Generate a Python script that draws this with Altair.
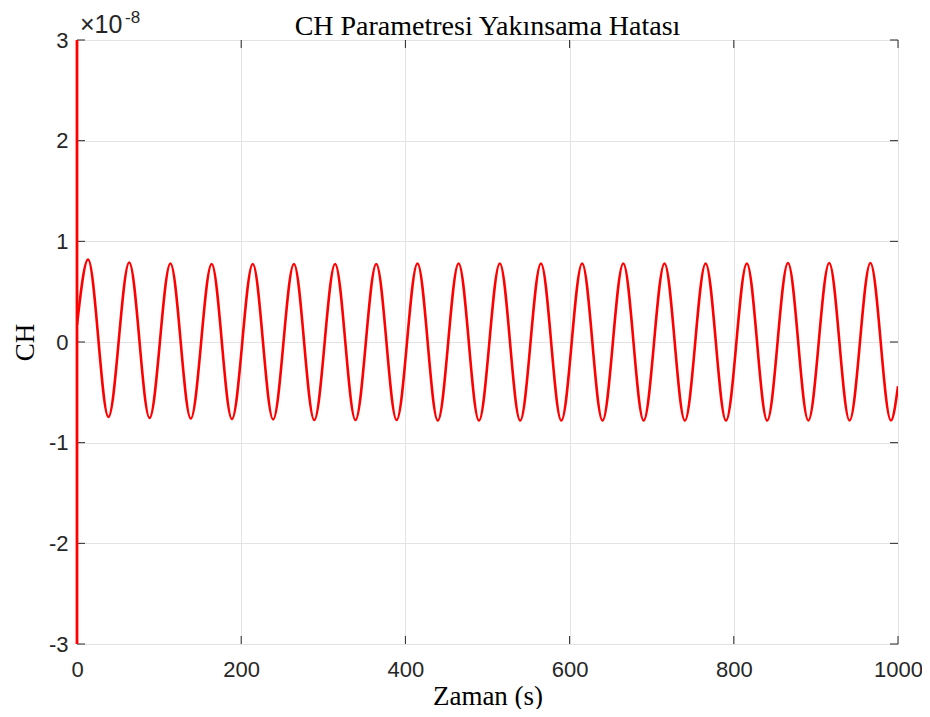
import altair as alt
import pandas as pd

# Values in units of 1e-8 (as shown by the "×10^-8" axis multiplier)
start_x = [0.0]
start_y = [0.17]
peak_x = [13.5, 63.6, 113.8, 164.0, 214.1, 264.2, 314.4, 364.5, 414.7, 464.8,
          515.0, 565.1, 615.3, 665.4, 715.6, 765.7, 815.9, 866.0, 916.2, 966.4]
peak_y = [0.82, 0.79, 0.78, 0.775, 0.775, 0.775, 0.775, 0.775, 0.78, 0.78,
          0.78, 0.78, 0.78, 0.78, 0.78, 0.78, 0.78, 0.785, 0.785, 0.785]
trough_x = [38.3, 88.4, 138.6, 188.7, 238.9, 289.0, 339.2, 389.3, 439.5, 489.6,
            539.8, 589.9, 640.1, 690.2, 740.4, 790.5, 840.7, 890.8, 941.0, 991.4]
trough_y = [-0.745, -0.755, -0.76, -0.765, -0.77, -0.775, -0.775, -0.775, -0.78, -0.78,
            -0.78, -0.78, -0.78, -0.78, -0.78, -0.78, -0.78, -0.78, -0.78, -0.78]
end_x = [1000.0]
end_y = [-0.44]

# initial transient at t = 0 runs off the axis limits
spike_x = [0.0]
spike_lo = [-3.0]
spike_hi = [3.0]

x_ticks = [0, 200, 400, 600, 800, 1000]
y_ticks = [-3, -2, -1, 0, 1, 2, 3]

title_text = ["CH Parametresi Yakınsama Hatası"]

xs, ys = list(start_x), list(start_y)
for px, py, tx, ty in zip(peak_x, peak_y, trough_x, trough_y):
    xs += [px, tx]
    ys += [py, ty]
xs += end_x
ys += end_y
df = pd.DataFrame({"t": xs, "ch": ys})
spike_df = pd.DataFrame({"t": spike_x, "lo": spike_lo, "hi": spike_hi})
xt_df = pd.DataFrame({"v": x_ticks})
yt_df = pd.DataFrame({"v": y_ticks})

W, H = 821, 604
AX = "#262626"
xscale = alt.Scale(domain=[0, 1000], nice=False, zero=False)
yscale = alt.Scale(domain=[-3, 3], nice=False, zero=False)

xaxis = alt.Axis(values=x_ticks, grid=True, gridColor="#e3e3e3", ticks=False, domain=False,
                 labelExpr="toString(datum.value)", labelFlush=False,
                 labelFont="Liberation Sans", labelFontSize=22, labelColor=AX, labelPadding=15,
                 title="Zaman (s)", titleFont="Liberation Serif", titleFontSize=27,
                 titleFontWeight="normal", titleColor="#000000", titlePadding=3)
yaxis = alt.Axis(values=y_ticks, grid=True, gridColor="#e3e3e3", ticks=False, domain=False,
                 labelExpr="toString(datum.value)", labelFlush=False,
                 labelFont="Liberation Sans", labelFontSize=22, labelColor=AX, labelPadding=9,
                 title="CH", titleFont="Liberation Serif", titleFontSize=27,
                 titleFontWeight="normal", titleColor="#000000",
                 titleX=-44, titleY=H / 2, titleBaseline="alphabetic", titleAngle=270)

line = alt.Chart(df).mark_line(color="#ff0000", strokeWidth=2.6, interpolate="monotone", clip=True).encode(
    x=alt.X("t:Q", scale=xscale, axis=xaxis),
    y=alt.Y("ch:Q", scale=yscale, axis=yaxis),
)

spike = alt.Chart(spike_df).mark_rule(color="#ff0000", strokeWidth=2.8).encode(
    x=alt.X("t:Q", scale=xscale),
    y=alt.Y("lo:Q", scale=yscale),
    y2="hi:Q",
)

TL = 8
xt_bot = alt.Chart(xt_df).mark_rule(color=AX, strokeWidth=1).encode(
    x=alt.X("v:Q", scale=xscale), y=alt.value(H), y2=alt.value(H - TL))
xt_top = alt.Chart(xt_df).mark_rule(color=AX, strokeWidth=1).encode(
    x=alt.X("v:Q", scale=xscale), y=alt.value(0), y2=alt.value(TL))
yt_left = alt.Chart(yt_df).mark_rule(color=AX, strokeWidth=1).encode(
    y=alt.Y("v:Q", scale=yscale), x=alt.value(0), x2=alt.value(TL))
yt_right = alt.Chart(yt_df).mark_rule(color=AX, strokeWidth=1).encode(
    y=alt.Y("v:Q", scale=yscale), x=alt.value(W), x2=alt.value(W - TL))

mult = alt.Chart(pd.DataFrame({"s": ["×10"]})).mark_text(
    font="Liberation Sans", fontSize=25, color=AX, align="left", baseline="alphabetic").encode(
    text="s:N", x=alt.value(3), y=alt.value(-7))
expo = alt.Chart(pd.DataFrame({"s": ["-8"]})).mark_text(
    font="Liberation Sans", fontSize=17, color=AX, align="left", baseline="alphabetic").encode(
    text="s:N", x=alt.value(48), y=alt.value(-17))
title = alt.Chart(pd.DataFrame({"s": title_text})).mark_text(
    font="Liberation Serif", fontSize=28, color="#000000", align="center", baseline="alphabetic").encode(
    text="s:N", x=alt.value(W / 2), y=alt.value(-5))

chart = alt.layer(line, xt_bot, xt_top, yt_left, yt_right, spike, mult, expo, title).properties(
    width=W, height=H,
    autosize=alt.AutoSizeParams(type="none"),
    padding={"left": 69, "top": 32, "right": 24, "bottom": 65},
).configure_view(stroke=AX, strokeWidth=1.2).configure(background="white")

chart.save("out.html", embed_options={"renderer": "svg", "actions": False})
